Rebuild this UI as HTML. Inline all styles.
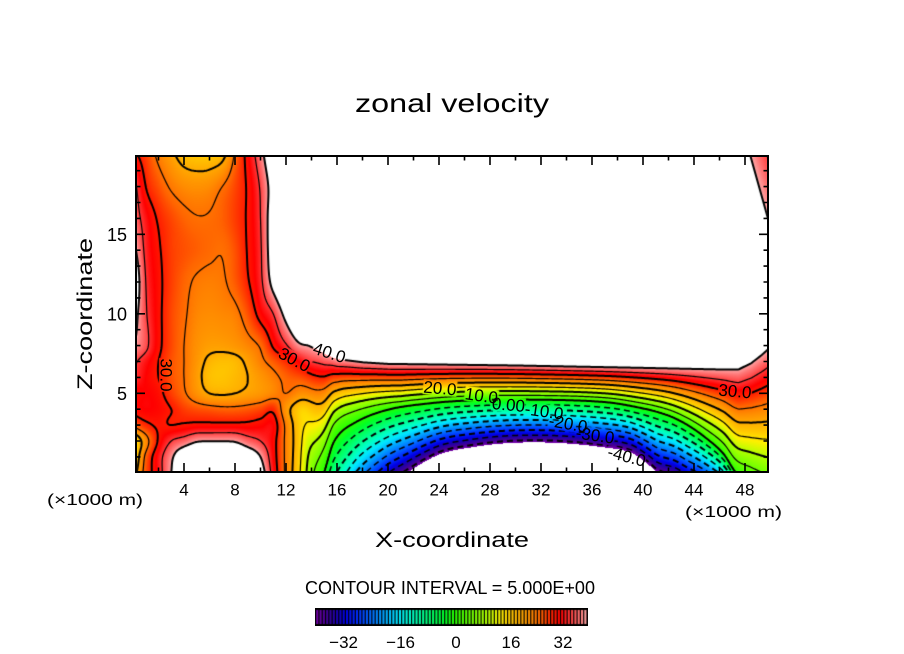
<!DOCTYPE html>
<html><head><meta charset="utf-8">
<style>
html,body{margin:0;padding:0;background:#fff;}
body{width:904px;height:654px;position:relative;overflow:hidden;}
#fld{position:absolute;left:136px;top:156px;}
#cb{position:absolute;left:315px;top:608px;}
svg{position:absolute;left:0;top:0;}
text{font-family:"Liberation Sans",sans-serif;fill:#000;}
</style></head><body>
<canvas id="fld" width="632" height="316"></canvas>
<canvas id="cb" width="273" height="18"></canvas>
<svg width="904" height="654" xmlns="http://www.w3.org/2000/svg">
<g id="axes"></g>
<rect x="136" y="156" width="632" height="316" fill="none" stroke="#000" stroke-width="2"/>
<text x="355" y="112" font-size="26" textLength="194" lengthAdjust="spacingAndGlyphs">zonal velocity</text>
<text x="375" y="547" font-size="21" textLength="154" lengthAdjust="spacingAndGlyphs">X-coordinate</text>
<text transform="translate(92,390) rotate(-90)" font-size="21" textLength="152" lengthAdjust="spacingAndGlyphs">Z-coordinate</text>
<text x="47" y="505" font-size="16" textLength="96" lengthAdjust="spacingAndGlyphs">(×1000 m)</text>
<text x="685" y="517" font-size="16" textLength="97" lengthAdjust="spacingAndGlyphs">(×1000 m)</text>
<g font-size="17" text-anchor="middle">
<text x="184" y="495.5">4</text><text x="235" y="495.5">8</text><text x="286" y="495.5">12</text>
<text x="337" y="495.5">16</text><text x="388" y="495.5">20</text><text x="439" y="495.5">24</text>
<text x="490" y="495.5">28</text><text x="541" y="495.5">32</text><text x="592" y="495.5">36</text>
<text x="643" y="495.5">40</text><text x="694" y="495.5">44</text><text x="745" y="495.5">48</text>
</g>
<g font-size="18" text-anchor="end">
<text x="127" y="400">5</text><text x="127" y="320.5">10</text><text x="127" y="241">15</text>
</g>
<text x="305" y="594" font-size="18" textLength="290" lengthAdjust="spacingAndGlyphs">CONTOUR INTERVAL = 5.000E+00</text>
<g font-size="17">
<text x="358" y="648" text-anchor="end">−32</text>
<text x="415" y="648" text-anchor="end">−16</text>
<text x="456" y="648" text-anchor="middle">0</text>
<text x="511" y="648" text-anchor="middle">16</text>
<text x="563" y="648" text-anchor="middle">32</text>
</g>
<g font-size="17">
<text transform="translate(329.5,352.5) rotate(18)" text-anchor="middle" dy="6">40.0</text>
<text transform="translate(294.5,359.5) rotate(28)" text-anchor="middle" dy="6">30.0</text>
<text transform="translate(166.5,375) rotate(90)" text-anchor="middle" dy="6">30.0</text>
<text transform="translate(440,388) rotate(5)" text-anchor="middle" dy="6">20.0</text>
<text transform="translate(481.5,395.5) rotate(8)" text-anchor="middle" dy="6">10.0</text>
<text transform="translate(508.5,404.5) rotate(5)" text-anchor="middle" dy="6">0.00</text>
<text transform="translate(547.5,411.5) rotate(8)" x="16" text-anchor="end" dy="6">-10.0</text>
<text transform="translate(571.5,424) rotate(10)" x="16" text-anchor="end" dy="6">-20.0</text>
<text transform="translate(598.5,435.5) rotate(8)" x="16" text-anchor="end" dy="6">-30.0</text>
<text transform="translate(630,457) rotate(15)" x="16" text-anchor="end" dy="6">-40.0</text>
<text transform="translate(735,391) rotate(5)" text-anchor="middle" dy="6">30.0</text>
</g>
</svg>
<script>
(function(){
var W=632,H=316,X0=136,Y0=156,nx=W+1,ny=H+1;
var xs=[0,1,2,3,4,5,6,7,8,9,10,11,12,13,14,16];
var zs=[0,1,2,3,4,5,6,7,8,10,12,14,16,18,20];
var T=[
[17,27,33,40,46,49,50,50,49,46,43,33,24,16,7,-10],
[14,26,33,39,45,48,48.5,48.5,47.5,44.5,40,32,24,16.5,7.5,-5.5],
[14,23,30.5,35,37,39.5,39.8,39.8,39.5,37,35,31.5,24,17,9,-1],
[26,29,30.5,30,30.5,31,31,31,31,31,31.5,32,24,17,12,3.4],
[31,32,31.5,30,28,27,26.5,26,26,26.5,27.5,29,22,17,14,10],
[31,32,31,28,25.5,22.5,20,19.5,20,21,22,23.5,25,23,21.5,18.5],
[35,32,30,27,25,21.5,18,17.5,18.5,20,22,24,26,27,27.5,28],
[36,33,30,27,25,22,19,18,18.5,21,24,26.5,29,32,35,38.5],
[40,36,31,27.5,25,22.5,21.2,21.2,22,23.5,25.5,30.5,34.5,39,41,48],
[43,35.5,31,27.5,25.5,23.5,23,23.3,24,27,31.5,35,42,48,52,56],
[46,35,31,28,26,24.5,24,24.5,26.5,29.6,34,42,49,53,55,57],
[42,34,30.5,28,27,26.3,25.6,25.2,27,30.3,34.5,44,50,54,56,58],
[38,33,29.5,27.5,26,25.2,25.3,26.2,28,30.5,35,44,50,54,56,58],
[37,30,27,24.5,23,22.5,23,25,27.5,30.5,35.5,43,50,54,56,58],
[31,28,24,21,18,17,17,18.5,25.5,31.5,38,46,52,55,56,58]];
function herm(xa,ya,x){
 var n=xa.length,i=0;
 if(x<=xa[0])i=0;else if(x>=xa[n-1])i=n-2;else{while(x>xa[i+1])i++;}
 var x0=xa[i],x1=xa[i+1],y0=ya[i],y1=ya[i+1],h=x1-x0;
 var m0=i>0?(y1-ya[i-1])/(x1-xa[i-1]):(y1-y0)/h;
 var m1=i<n-2?(ya[i+2]-y0)/(xa[i+2]-x0):(y1-y0)/h;
 var t=(x-x0)/h;
 if(t<0||t>1)return y0+(y1-y0)*t;
 var t2=t*t,t3=t2*t;
 return (2*t3-3*t2+1)*y0+(t3-2*t2+t)*h*m0+(-2*t3+3*t2)*y1+(t3-t2)*h*m1;
}
function split(a){return [a.map(function(p){return p[0];}),a.map(function(p){return p[1];})];}
var HT=split([[12,10],[13,8.7],[14,8.0],[15,7.5],[16,7.15],[18,6.95],[20,6.85],[30,6.75],[40,6.6],[46,6.5],[47.5,6.5],[48.5,6.9],[49.3,7.4],[50,7.9]]);
var H0=split([[12,-9],[13,-5.5],[14,-2.5],[15,0],[15.8,2.0],[17.3,3.1],[19.9,3.95],[23,4.35],[26.4,4.55],[31.75,4.6],[37,4.45],[40,4.05],[42,3.6],[43.5,3.0],[45,2.15],[46.3,1.2],[47.3,0],[48.5,-0.6],[50,-1.4]]);
var HW=split([[12,-16],[14,-12],[15,-9],[16,-6.9],[17.5,-3.4],[19.5,-1.2],[21.5,0],[24,1.15],[26.5,1.6],[29,1.85],[31.5,1.92],[34,1.85],[36.5,1.65],[39,1.3],[40.3,0.6],[41.2,0],[42.5,-0.3],[43.5,-0.75],[45,-1.3],[46.5,-2.0],[47.5,-3.0],[49,-5],[50,-6.5]]);
function lin(A,x){var xa=A[0],ya=A[1];if(x<=xa[0])return ya[0];for(var k=1;k<xa.length;k++){if(x<=xa[k])return ya[k-1]+(ya[k]-ya[k-1])*(x-xa[k-1])/(xa[k]-xa[k-1]);}return ya[ya.length-1];}
function params(x){
 var c=(21-x)/5;if(c<0)c=0;if(c>1)c=1;
 return {a:herm(H0[0],H0[1],x),w:herm(HW[0],HW[1],x),t:lin(HT,x),p:1+0.35*c};
}
function uR(x,z,P){
 var u;
 if(z<P.w)u=-42-10*(P.w-z);
 else if(z<P.a)u=-42*(P.a-z)/(P.a-P.w);
 else{var t=(z-P.a)/(P.t-P.a);u=t<=1?40*Math.pow(t,P.p):40+(t-1)*40*P.p;}
 if(z>10){var s=((x-48.4)*4+(z-20)*1.4)/4.236;var cc=40-4*s;if(cc<u)u=cc;}
 return u;
}
var F=new Float32Array(nx*ny),rv=new Array(zs.length);
for(var i=0;i<nx;i++){
 var x=(X0+i-133)/12.75,useT=x<15,P=x>13?params(x):null;
 if(useT)for(var k=0;k<zs.length;k++)rv[k]=herm(xs,T[k],x);
 for(var j=0;j<ny;j++){
  var z=(472.8-(Y0+j))/15.9,u;
  if(!useT)u=uR(x,z,P);
  else{var ul=herm(zs,rv,z);if(x<=13)u=ul;else{var w=(x-13)/2;w=w*w*(3-2*w);u=(1-w)*ul+w*uR(x,z,P);}}
  F[j*nx+i]=u;
 }
}
var S=[[-42,120,0,170],[-39,70,0,150],[-36,30,0,170],[-33,0,0,230],[-29,0,50,255],[-25,0,110,255],[-21,0,170,255],[-17,0,230,255],[-13,0,255,200],[-8,0,255,120],[-3,0,255,40],[0,40,255,0],[5,110,255,0],[10,180,255,0],[14,255,240,0],[17,255,200,0],[20,255,170,0],[23,255,140,0],[26,255,100,0],[29,255,40,0],[32,255,0,0],[35,255,60,60],[38,255,120,120],[40,255,170,170]];
function col(v){
 if(v>40||v<-42)return [255,255,255];
 for(var k=1;k<S.length;k++){if(v<=S[k][0]){var a=S[k-1],b=S[k],t=(v-a[0])/(b[0]-a[0]);return [a[1]+(b[1]-a[1])*t,a[2]+(b[2]-a[2])*t,a[3]+(b[3]-a[3])*t];}}
 return [255,170,170];
}
var cv=document.getElementById('fld'),ctx=cv.getContext('2d');
var img=ctx.createImageData(W,H),D=img.data;
for(var j=0;j<H;j++)for(var i=0;i<W;i++){
 var v=(F[j*nx+i]+F[j*nx+i+1]+F[(j+1)*nx+i]+F[(j+1)*nx+i+1])/4,c=col(v),p=(j*W+i)*4;
 D[p]=c[0];D[p+1]=c[1];D[p+2]=c[2];D[p+3]=255;
}
ctx.putImageData(img,0,0);
function march(L){
 var adj=new Map(),P=new Map(),VO=nx*ny;
 function add(a,b){var s=adj.get(a);if(!s){s=[];adj.set(a,s);}s.push(b);s=adj.get(b);if(!s){s=[];adj.set(b,s);}s.push(a);}
 for(var j=0;j<ny-1;j++)for(var i=0;i<nx-1;i++){
  var a=F[j*nx+i],b=F[j*nx+i+1],c=F[(j+1)*nx+i+1],d=F[(j+1)*nx+i];
  var idx=(a>L?8:0)|(b>L?4:0)|(c>L?2:0)|(d>L?1:0);
  if(idx===0||idx===15)continue;
  var top=j*nx+i,bot=(j+1)*nx+i,lef=VO+j*nx+i,rig=VO+j*nx+i+1;
  if(!P.has(top)&&(a>L)!==(b>L))P.set(top,[i+(L-a)/(b-a),j]);
  if(!P.has(bot)&&(d>L)!==(c>L))P.set(bot,[i+(L-d)/(c-d),j+1]);
  if(!P.has(lef)&&(a>L)!==(d>L))P.set(lef,[i,j+(L-a)/(d-a)]);
  if(!P.has(rig)&&(b>L)!==(c>L))P.set(rig,[i+1,j+(L-b)/(c-b)]);
  switch(idx){
   case 1:case 14:add(lef,bot);break;
   case 2:case 13:add(bot,rig);break;
   case 3:case 12:add(lef,rig);break;
   case 4:case 11:add(top,rig);break;
   case 5:add(lef,top);add(bot,rig);break;
   case 6:case 9:add(top,bot);break;
   case 7:case 8:add(lef,top);break;
   case 10:add(lef,bot);add(top,rig);break;
  }
 }
 var used=new Set(),lines=[];
 function walk(st){var ln=[P.get(st)];used.add(st);var cur=st;
  while(true){var nb=adj.get(cur),nxt=-1;for(var q=0;q<nb.length;q++){if(!used.has(nb[q])){nxt=nb[q];break;}}
   if(nxt<0)break;used.add(nxt);ln.push(P.get(nxt));cur=nxt;}
  return ln;}
 adj.forEach(function(nb,k){if(nb.length===1&&!used.has(k))lines.push(walk(k));});
 adj.forEach(function(nb,k){if(!used.has(k)){var ln=walk(k);ln.push(ln[0]);lines.push(ln);}});
 return lines;
}
var LB=[[329.5,352.5,34,15,18],[294.5,359.5,34,15,28],[166.5,375,34,15,90],[440,388,34,15,5],[481.5,395.5,34,15,8],[508.5,404.5,34,15,5],[544,411.5,40,15,8],[568,424,40,15,10],[595,435.5,40,15,8],[626,457,40,15,15],[735,391,34,15,5]];
ctx.save();
ctx.beginPath();ctx.rect(0,0,W,H);
LB.forEach(function(b){var cx=b[0]-X0,cy=b[1]-Y0,hw=b[2]/2,hh=b[3]/2,an=b[4]*Math.PI/180,co=Math.cos(an),si=Math.sin(an);
 var pts=[[-hw,-hh],[hw,-hh],[hw,hh],[-hw,hh]];
 pts.forEach(function(p,q){var X=cx+p[0]*co-p[1]*si,Y=cy+p[0]*si+p[1]*co;if(q===0)ctx.moveTo(X,Y);else ctx.lineTo(X,Y);});
 ctx.closePath();});
ctx.clip('evenodd');
ctx.strokeStyle='#000';ctx.lineJoin='round';
for(var L=-40;L<=40;L+=5){
 var lines=march(L);
 ctx.beginPath();
 for(var q=0;q<lines.length;q++){var ln=lines[q];ctx.moveTo(ln[0][0],ln[0][1]);for(var r=1;r<ln.length;r++)ctx.lineTo(ln[r][0],ln[r][1]);}
 ctx.lineWidth=(L%10===0)?2:(L<0?1.5:1.2);
 ctx.setLineDash(L<0?[6,4]:[]);
 ctx.stroke();
}
ctx.restore();
var cb=document.getElementById('cb').getContext('2d');
cb.fillStyle='#000';cb.fillRect(0,0,273,18);
for(var k=0;k<82;k++){var c=col(-42+k+0.5);cb.fillStyle='rgb('+Math.round(c[0])+','+Math.round(c[1])+','+Math.round(c[2])+')';cb.fillRect(1.2+3.31*k,2,2.1,14);}
var xM=[184,235,286,337,388,439,490,541,592,643,694,745],xm=[158.5,209.5,260.5,311.5,362.5,413.5,464.5,515.5,566.5,617.5,668.5,719.5];
var yM=[393.3,313.8,234.3],ym=[456.9,441.0,425.1,409.2,377.4,361.5,345.6,329.7,297.9,282.0,266.1,250.2,218.4,202.5,186.6,170.7];
var d='';
xM.forEach(function(p){d+='M'+p+' 472V463M'+p+' 156V165';});
xm.forEach(function(p){d+='M'+p+' 472V467.5M'+p+' 156V160.5';});
yM.forEach(function(p){d+='M136 '+p+'H145M768 '+p+'H759';});
ym.forEach(function(p){d+='M136 '+p+'H140.5M768 '+p+'H763.5';});
document.getElementById('axes').innerHTML='<path d="'+d+'" stroke="#000" stroke-width="1.6" fill="none"/>';
})();
</script>
</body></html>
